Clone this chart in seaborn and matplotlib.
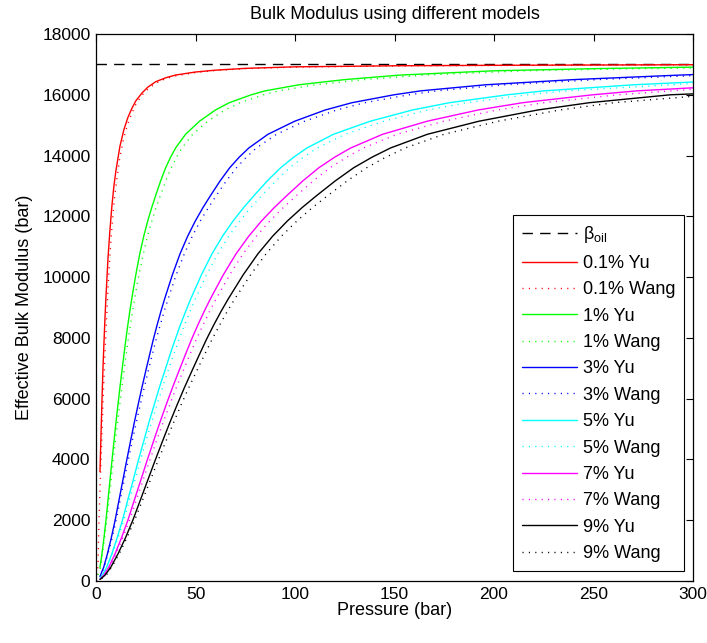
import numpy as np
import pandas as pd
import matplotlib
matplotlib.use("Agg")
import matplotlib.pyplot as plt
import seaborn as sns

# ---------------- data ----------------
beta_oil = 17000
p_range = [0, 300]

# 0.1 % air
p_yu_01 = [2, 2.5, 3, 3.5, 4, 4.5, 5, 6, 7, 8, 9, 10, 12, 14, 16, 18, 20, 23, 26, 30, 35, 40,
           50, 60, 75, 100, 150, 200, 300]
k_yu_01 = [3600, 4800, 5950, 7000, 7850, 8650, 9350, 10600, 11550, 12350, 13000, 13500, 14300,
           14850, 15250, 15550, 15800, 16050, 16250, 16430, 16560, 16650, 16750, 16810, 16870,
           16920, 16955, 16970, 16990]
p_wang_01 = [0, 1, 1.5, 2, 2.5, 3, 3.5, 4, 4.5, 5, 6, 7, 8, 9, 10, 12, 14, 16, 18, 20, 23, 26,
             30, 35, 40, 50, 60, 75, 100, 150, 200, 300]
k_wang_01 = [0, 500, 2000, 3000, 3950, 4900, 5850, 6700, 7500, 8200, 9600, 10750, 11650, 12400,
             13000, 13950, 14600, 15050, 15400, 15680, 15980, 16180, 16380, 16530, 16620, 16730,
             16800, 16860, 16910, 16950, 16965, 16985]

# 1 % air
p_yu_1 = [2, 3, 4, 5, 6, 7, 8, 9, 10, 11, 12, 13, 14, 15, 16, 17, 18, 20, 22, 24, 26, 28, 30,
          32.5, 35, 37.5, 40, 45, 52, 60, 67, 78, 85, 102, 125, 153, 200, 250, 300]
k_yu_1 = [450, 900, 1420, 2000, 2650, 3300, 3950, 4580, 5200, 5790, 6360, 6900, 7430, 7950,
          8430, 8880, 9300, 10080, 10770, 11350, 11850, 12290, 12690, 13170, 13600, 13950,
          14250, 14700, 15130, 15500, 15740, 16000, 16130, 16330, 16500, 16650, 16790, 16860,
          16910]
p_wang_1 = [0, 2.2, 3.2, 4.3, 5.4, 6.5, 7.6, 8.6, 9.7, 10.8, 11.9, 13.0, 14.0, 15.1, 16.2, 17.3,
            18.4, 19.4, 21.6, 23.8, 25.9, 28.1, 30.2, 32.4, 35.1, 37.8, 40.5, 43.2, 48.6, 56.2,
            64.8, 72.4, 84.2, 91.8, 110.2, 135.0, 165.2, 216.0, 270.0, 300]
k_wang_1 = [0, 450, 900, 1420, 2000, 2650, 3300, 3950, 4580, 5200, 5790, 6360, 6900, 7430, 7950,
            8430, 8880, 9300, 10080, 10770, 11350, 11850, 12290, 12690, 13170, 13600, 13950,
            14250, 14700, 15130, 15500, 15740, 16000, 16130, 16330, 16500, 16650, 16790, 16860,
            16880]

# 3 % air
p_yu_3 = [2, 3.84, 5.76, 7.68, 9.6, 11.52, 13.44, 15.36, 17.28, 19.2, 21.12, 23.04, 24.96, 26.88,
          28.8, 30.72, 32.64, 34.56, 38.4, 42.24, 46.08, 49.92, 53.76, 57.6, 62.4, 67.2, 72.0,
          76.8, 86.4, 99.84, 115.2, 128.64, 149.76, 163.2, 195.84, 240.0, 293.76, 300]
k_yu_3 = [150, 450, 900, 1420, 2000, 2650, 3300, 3950, 4580, 5200, 5790, 6360, 6900, 7430, 7950,
          8430, 8880, 9300, 10080, 10770, 11350, 11850, 12290, 12690, 13170, 13600, 13950, 14250,
          14700, 15130, 15500, 15740, 16000, 16130, 16330, 16500, 16650, 16665]
p_wang_3 = [0, 2, 4.0, 6.0, 8.1, 10.1, 12.1, 14.1, 16.1, 18.1, 20.2, 22.2, 24.2, 26.2, 28.2,
            30.2, 32.3, 34.3, 36.3, 40.3, 44.4, 48.4, 52.4, 56.5, 60.5, 65.5, 70.6, 75.6, 80.6,
            90.7, 104.8, 121.0, 135.1, 157.2, 171.4, 205.6, 252.0, 300]
k_wang_3 = [0, 110, 450, 900, 1420, 2000, 2650, 3300, 3950, 4580, 5200, 5790, 6360, 6900, 7430,
            7950, 8430, 8880, 9300, 10080, 10770, 11350, 11850, 12290, 12690, 13170, 13600,
            13950, 14250, 14700, 15130, 15500, 15740, 16000, 16130, 16330, 16500, 16630]

# 5 % air
p_yu_5 = [2, 3.5, 5.3, 8.0, 10.6, 13.3, 15.9, 18.6, 21.2, 23.9, 26.5, 29.2, 31.8, 34.5, 37.1,
          39.8, 42.4, 45.1, 47.7, 53.0, 58.3, 63.6, 68.9, 74.2, 79.5, 86.1, 92.8, 99.4, 106.0,
          119.3, 137.8, 159.0, 177.6, 206.7, 225.3, 270.3, 300]
k_yu_5 = [90, 230, 450, 900, 1420, 2000, 2650, 3300, 3950, 4580, 5200, 5790, 6360, 6900, 7430,
          7950, 8430, 8880, 9300, 10080, 10770, 11350, 11850, 12290, 12690, 13170, 13600, 13950,
          14250, 14700, 15130, 15500, 15740, 16000, 16130, 16330, 16420]
p_wang_5 = [0, 3.5, 5.6, 8.3, 11.1, 13.9, 16.7, 19.5, 22.2, 25.0, 27.8, 30.6, 33.4, 36.1, 38.9,
            41.7, 44.5, 47.3, 50.0, 55.6, 61.2, 66.7, 72.3, 77.8, 83.4, 90.4, 97.3, 104.3, 111.2,
            125.1, 144.6, 166.8, 186.3, 216.8, 236.3, 300]
k_wang_5 = [0, 180, 450, 900, 1420, 2000, 2650, 3300, 3950, 4580, 5200, 5790, 6360, 6900, 7430,
            7950, 8430, 8880, 9300, 10080, 10770, 11350, 11850, 12290, 12690, 13170, 13600,
            13950, 14250, 14700, 15130, 15500, 15740, 16000, 16130, 16370]

# 7 % air
p_yu_7 = [2, 4, 6.4, 9.6, 12.8, 16.0, 19.2, 22.4, 25.6, 28.8, 32.0, 35.2, 38.4, 41.6, 44.8,
          48.0, 51.2, 54.4, 57.6, 64.0, 70.4, 76.8, 83.2, 89.6, 96.0, 104.0, 112.0, 120.0,
          128.0, 144.0, 166.4, 192.0, 214.4, 249.6, 272.0, 300]
k_yu_7 = [60, 200, 450, 900, 1420, 2000, 2650, 3300, 3950, 4580, 5200, 5790, 6360, 6900, 7430,
          7950, 8430, 8880, 9300, 10080, 10770, 11350, 11850, 12290, 12690, 13170, 13600, 13950,
          14250, 14700, 15130, 15500, 15740, 16000, 16130, 16230]
p_wang_7 = [0, 4.2, 6.7, 10.1, 13.4, 16.8, 20.2, 23.5, 26.9, 30.2, 33.6, 37.0, 40.3, 43.7,
            47.0, 50.4, 53.8, 57.1, 60.5, 67.2, 73.9, 80.6, 87.4, 94.1, 100.8, 109.2, 117.6,
            126.0, 134.4, 151.2, 174.7, 201.6, 225.1, 262.1, 300]
k_wang_7 = [0, 160, 450, 900, 1420, 2000, 2650, 3300, 3950, 4580, 5200, 5790, 6360, 6900, 7430,
            7950, 8430, 8880, 9300, 10080, 10770, 11350, 11850, 12290, 12690, 13170, 13600,
            13950, 14250, 14700, 15130, 15500, 15740, 16000, 16180]

# 9 % air
p_yu_9 = [2, 4.5, 7.4, 11.1, 14.8, 18.5, 22.2, 25.9, 29.6, 33.3, 37.0, 40.7, 44.4, 48.1, 51.8,
          55.5, 59.2, 62.9, 66.6, 74.0, 81.4, 88.8, 96.2, 103.6, 111.0, 120.3, 129.5, 138.8,
          148.0, 166.5, 192.4, 222.0, 247.9, 288.6, 300]
k_yu_9 = [50, 190, 450, 900, 1420, 2000, 2650, 3300, 3950, 4580, 5200, 5790, 6360, 6900, 7430,
          7950, 8430, 8880, 9300, 10080, 10770, 11350, 11850, 12290, 12690, 13170, 13600, 13950,
          14250, 14700, 15130, 15500, 15740, 16000, 16030]
p_wang_9 = [0, 4.7, 7.8, 11.7, 15.5, 19.4, 23.3, 27.2, 31.1, 35.0, 38.9, 42.7, 46.6, 50.5, 54.4,
            58.3, 62.2, 66.0, 69.9, 77.7, 85.5, 93.2, 101.0, 108.8, 116.6, 126.3, 136.0, 145.7,
            155.4, 174.8, 202.0, 233.1, 260.3, 300]
k_wang_9 = [0, 150, 450, 900, 1420, 2000, 2650, 3300, 3950, 4580, 5200, 5790, 6360, 6900, 7430,
            7950, 8430, 8880, 9300, 10080, 10770, 11350, 11850, 12290, 12690, 13170, 13600,
            13950, 14250, 14700, 15130, 15500, 15740, 15950]

series_labels = ["0.1%", "1%", "3%", "5%", "7%", "9%"]
series_colors = [(1, 0, 0), (0, 1, 0), (0, 0, 1), (0, 1, 1), (1, 0, 1), (0, 0, 0)]
yu_data = [(p_yu_01, k_yu_01), (p_yu_1, k_yu_1), (p_yu_3, k_yu_3),
           (p_yu_5, k_yu_5), (p_yu_7, k_yu_7), (p_yu_9, k_yu_9)]
wang_data = [(p_wang_01, k_wang_01), (p_wang_1, k_wang_1), (p_wang_3, k_wang_3),
             (p_wang_5, k_wang_5), (p_wang_7, k_wang_7), (p_wang_9, k_wang_9)]

xticks = [0, 50, 100, 150, 200, 250, 300]
yticks = [0, 2000, 4000, 6000, 8000, 10000, 12000, 14000, 16000, 18000]

# ---------------- styling ----------------
sns.set_style("white")
plt.rcParams["font.family"] = ["Liberation Sans", "DejaVu Sans"]
plt.rcParams["mathtext.fontset"] = "custom"
plt.rcParams["mathtext.rm"] = "Liberation Sans"
plt.rcParams["mathtext.it"] = "Liberation Sans:italic"

fig = plt.figure(figsize=(7.07, 6.43), dpi=100)
ax = fig.add_axes([0.1358, 0.0964, 0.8444, 0.8507])

lw = 1.0
dash_beta = (7.5, 5.2)
dot_wang = (0.8, 3.8)

df_beta = pd.DataFrame({"P": p_range, "K": [beta_oil, beta_oil]})
sns.lineplot(data=df_beta, x="P", y="K", ax=ax, color="black", lw=lw,
             estimator=None, label="β$_{\\mathrm{oil}}$")
ax.lines[-1].set_dashes(dash_beta)

for lab, col, (py, ky), (pw, kw) in zip(series_labels, series_colors, yu_data, wang_data):
    sns.lineplot(x=py, y=ky, ax=ax, color=col, lw=lw, estimator=None, sort=False,
                 label=f"{lab} Yu")
    sns.lineplot(x=pw, y=kw, ax=ax, color=col, lw=lw, estimator=None, sort=False,
                 label=f"{lab} Wang")
    ax.lines[-1].set_dashes(dot_wang)

ax.set_xlim(0, 300)
ax.set_ylim(0, 18000)
ax.set_xticks(xticks)
ax.set_yticks(yticks)
ax.set_xticklabels([str(t) for t in xticks])
ax.set_yticklabels([str(t) for t in yticks])
ax.tick_params(axis="both", which="both", direction="in", length=5, width=0.8,
               top=True, right=True, labelsize=12.5, pad=4, color="black",
               labelcolor="black")
for s in ax.spines.values():
    s.set_visible(True)
    s.set_color("black")
    s.set_linewidth(0.9)

ax.set_xlabel("Pressure (bar)", fontsize=13, labelpad=0.5, color="black")
ax.set_ylabel("Effective Bulk Modulus (bar)", fontsize=13, labelpad=6.5, color="black")
ax.set_title("Bulk Modulus using different models", fontsize=13, pad=11, color="black")

handles, labels = ax.get_legend_handles_labels()
for h in handles:
    h.set_linewidth(lw)
handles[0].set_dashes(dash_beta)
for i in range(2, len(handles), 2):
    handles[i].set_dashes(dot_wang)
leg = ax.legend(handles, labels, loc="lower right", bbox_to_anchor=(0.985, 0.018),
                fontsize=13, frameon=True, fancybox=False, framealpha=1,
                edgecolor="black", handlelength=3.05, handletextpad=0.28,
                labelspacing=0.52, borderpad=0.5, borderaxespad=0)
leg.get_frame().set_linewidth(0.8)
for t in leg.get_texts():
    t.set_color("black")

fig.savefig("out.png", dpi=100)
